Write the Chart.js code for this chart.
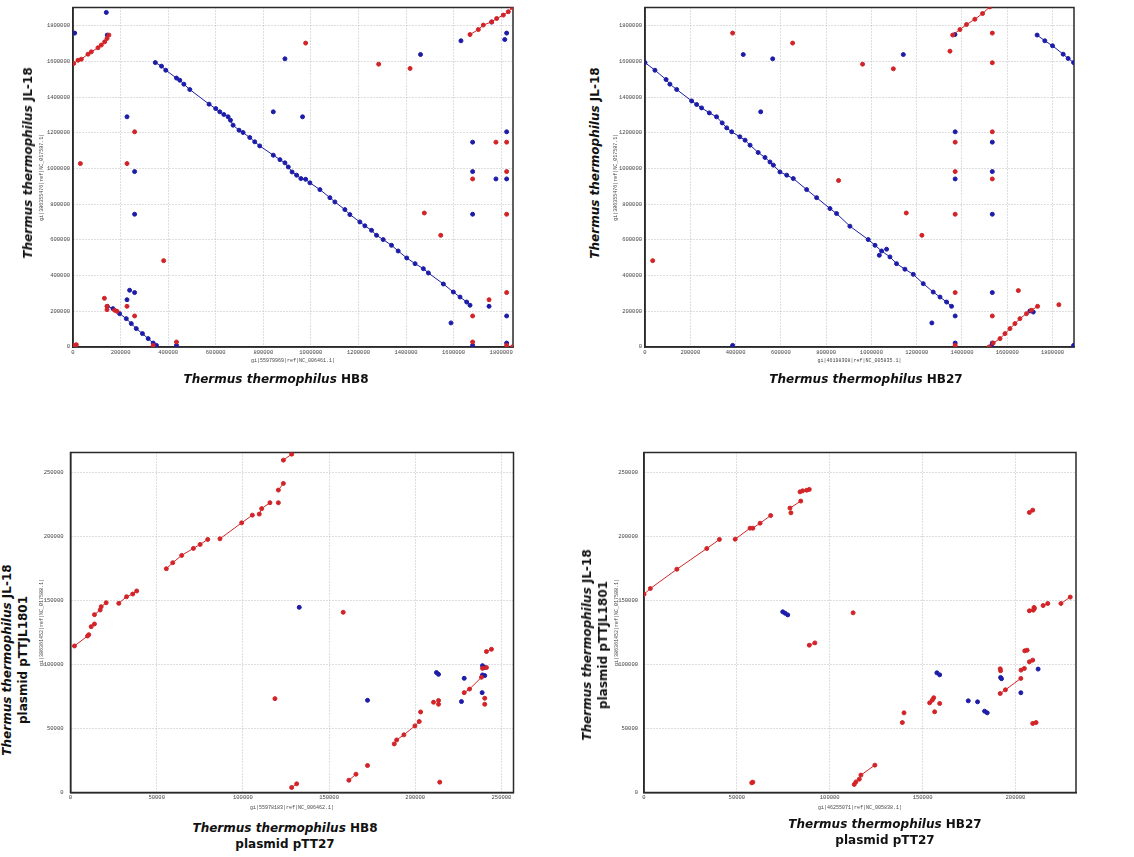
<!DOCTYPE html>
<html><head><meta charset="utf-8">
<script src="https://cdn.jsdelivr.net/npm/chart.js@4/dist/chart.umd.min.js"></script>
<style>
body{margin:0;background:#fff;width:1134px;height:857px;position:relative;overflow:hidden;font-family:"DejaVu Sans",sans-serif;}
canvas{position:absolute;}
.lab{position:absolute;font-weight:bold;font-size:12px;color:#111;white-space:nowrap;text-align:center;line-height:16px;}
.lab i{font-style:italic;}
.rot{transform:translate(-50%,-50%) rotate(-90deg);}
.hor{transform:translate(-50%,-50%);}
</style></head><body>
<canvas id="c1"></canvas><canvas id="c2"></canvas><canvas id="c3"></canvas><canvas id="c4"></canvas>
<div class="lab rot" style="left:28px;top:163px"><i>Thermus thermophilus</i> JL-18</div>
<div class="lab hor" style="left:276px;top:379px"><i>Thermus thermophilus</i> HB8</div>
<div class="lab rot" style="left:595px;top:163px"><i>Thermus thermophilus</i> JL-18</div>
<div class="lab hor" style="left:866px;top:379px"><i>Thermus thermophilus</i> HB27</div>
<div class="lab rot" style="left:15px;top:660px"><i>Thermus thermophilus</i> JL-18<br>plasmid pTTJL1801</div>
<div class="lab hor" style="left:285px;top:836px"><i>Thermus thermophilus</i> HB8<br>plasmid pTT27</div>
<div class="lab rot" style="left:595px;top:645px"><i>Thermus thermophilus</i> JL-18<br>plasmid pTTJL1801</div>
<div class="lab hor" style="left:885px;top:832px"><i>Thermus thermophilus</i> HB27<br>plasmid pTT27</div>
<script>
// ---------------- DATA ----------------
// Axis extents (sequence lengths)
const p1XMax = 1849742, p1YMax = 1902595;
const p2XMax = 1894877, p2YMax = 1902595;
const p3XMax = 256992,  p3YMax = 265886;
const p4XMax = 232605,  p4YMax = 265886;

// Tick values
const chromTicks = [0,200000,400000,600000,800000,1000000,1200000,1400000,1600000,1800000];
const p3XTicks = [0,50000,100000,150000,200000,250000];
const p4XTicks = [0,50000,100000,150000,200000];
const plasmidYTicks = [0,50000,100000,150000,200000,250000];

// Axis sub-titles
const p1XTitle = "gi|55979969|ref|NC_006461.1|", p1YTitle = "gi|386355476|ref|NC_017587.1|";
const p2XTitle = "gi|46198308|ref|NC_005835.1|", p2YTitle = "gi|386355476|ref|NC_017587.1|";
const p3XTitle = "gi|55978183|ref|NC_006462.1|", p3YTitle = "gi|386361452|ref|NC_017588.1|";
const p4XTitle = "gi|46255071|ref|NC_005838.1|", p4YTitle = "gi|386361452|ref|NC_017588.1|";

// Panel 1: HB8 chromosome vs JL-18 chromosome. Each segment = list of [x, y]
const p1Red = [
  [[3000,1589000],[21000,1607000],[35000,1613000],[63000,1641000],[77000,1654000],[105000,1677000],[119000,1692000],[133000,1710000],[143000,1729000],[151000,1748000]],
  [[1669000,1751000],[1704000,1779000],[1725000,1804000],[1760000,1822000],[1781000,1841000],[1809000,1860000],[1830000,1879000],[1847000,1903000]],
  [[175000,206000],[185000,200000]],
  [[3000,9000],[14000,13000]],
  [[978000,1703000]],[[1285000,1585000]],[[1417000,1561000]],[[259000,1206000]],[[31000,1028000]],
  [[227000,1028000]],[[381000,484000]],[[132000,273000]],[[227000,228000]],[[143000,228000]],[[143000,209000]],
  [[259000,174000]],[[435000,28000]],[[337000,9000]],[[1778000,1148000]],[[1823000,1148000]],
  [[1823000,983000]],[[1680000,942000]],[[1823000,744000]],[[1477000,751000]],[[1546000,626000]],
  [[1823000,305000]],[[1749000,265000]],[[1680000,174000]],[[1680000,28000]],[[1823000,9000]],[[1847000,0]]
];
const p1Blue = [
  [[346000,1594000],[372000,1574000],[390000,1551000],[435000,1507000],[449000,1495000],[466000,1473000],[491000,1443000],
   [572000,1361000],[600000,1336000],[617000,1318000],[634000,1303000],[652000,1290000],[662000,1271000],[673000,1243000],
   [698000,1215000],[715000,1202000],[743000,1174000],[764000,1150000],[785000,1127000],[842000,1075000],[870000,1050000],
   [891000,1032000],[905000,1009000],[921000,981000],[940000,963000],[958000,944000],[978000,940000],[996000,920000],
   [1038000,882000],[1080000,837000],[1101000,813000],[1143000,770000],[1164000,742000],[1206000,701000],[1227000,679000],
   [1255000,654000],[1276000,626000],[1304000,602000],[1339000,570000],[1367000,538000],[1403000,499000],[1438000,467000],
   [1473000,439000],[1494000,415000],[1557000,353000],[1599000,308000],[1627000,280000],[1655000,252000],[1669000,234000]],
  [[144000,228000],[168000,215000],[196000,187000],[224000,159000],[245000,131000],[266000,103000],[292000,75000],
   [316000,47000],[337000,22000],[351000,9000]],
  [[140000,1875000]],[[7000,1759000]],[[144000,1748000]],[[891000,1615000]],[[1461000,1639000]],[[1631000,1716000]],
  [[1760000,1821000]],[[1815000,1723000]],[[1823000,1759000]],[[842000,1318000]],[[965000,1290000]],[[227000,1290000]],
  [[259000,983000]],[[259000,744000]],[[238000,318000]],[[259000,305000]],[[227000,265000]],[[435000,9000]],
  [[1680000,1148000]],[[1823000,1206000]],[[1680000,983000]],[[1778000,942000]],[[1823000,942000]],[[1680000,744000]],
  [[1749000,228000]],[[1823000,174000]],[[1589000,135000]],[[1680000,9000]],[[1823000,22000]]
];

// Panel 2: HB27 chromosome vs JL-18 chromosome
const p2Red = [
  [[1359000,1748000],[1391000,1779000],[1420000,1807000],[1457000,1837000],[1491000,1869000],[1523000,1906000]],
  [[1520000,0],[1538000,22000],[1568000,47000],[1590000,75000],[1612000,103000],[1634000,131000],[1656000,159000],
   [1685000,187000],[1707000,206000],[1734000,228000]],
  [[34000,484000]],[[387000,1759000]],[[652000,1703000]],[[961000,1585000]],[[1097000,1559000]],[[1347000,1658000]],
  [[1534000,1759000]],[[1534000,1593000]],[[1534000,1206000]],[[1370000,1148000]],[[1370000,983000]],[[1534000,942000]],
  [[855000,933000]],[[1154000,751000]],[[1370000,744000]],[[1223000,626000]],[[1370000,305000]],[[1649000,316000]],
  [[1828000,237000]],[[1534000,174000]],[[1370000,9000]]
];
const p2Blue = [
  [[0,1594000],[44000,1551000],[93000,1499000],[110000,1473000],[140000,1443000],[206000,1379000],[228000,1359000],
   [250000,1340000],[284000,1312000],[316000,1290000],[341000,1256000],[361000,1228000],[383000,1206000],[419000,1178000],
   [442000,1159000],[464000,1131000],[500000,1090000],[530000,1062000],[552000,1037000],[567000,1019000],[596000,981000],
   [626000,963000],[655000,944000],[714000,882000],[758000,837000],[817000,776000],[846000,748000],[905000,677000],
   [986000,602000],[1016000,570000],[1045000,538000],[1082000,505000],[1111000,467000],[1148000,436000],[1185000,407000],
   [1229000,355000],[1273000,308000],[1303000,280000],[1332000,252000],[1354000,228000]],
  [[1732000,1748000],[1766000,1716000],[1800000,1688000],[1847000,1641000],[1869000,1617000],[1893000,1594000]],
  [[1700000,202000],[1715000,196000]],
  [[1369000,1751000]],[[1893000,9000]],[[387000,9000]],[[434000,1639000]],[[564000,1615000]],[[511000,1318000]],
  [[1141000,1639000]],[[1370000,1206000]],[[1534000,1148000]],[[1534000,983000]],[[1370000,942000]],[[1534000,744000]],
  [[1534000,305000]],[[1370000,174000]],[[1267000,135000]],[[1370000,22000]],[[1534000,22000]],[[1530000,5000]],
  [[1035000,514000]],[[1067000,548000]]
];

// Panel 3: HB8 plasmid pTT27 vs JL-18 plasmid pTTJL1801
const p3Red = [
  [[2300,114600],[9900,122400],[10600,123400]],
  [[12000,129700],[13900,131800]],
  [[13900,139100],[17200,142700],[17800,145300],[20700,148400]],
  [[28000,147900],[32500,153100],[36100,155200],[38400,157600]],
  [[55600,175000],[59300,179700],[64500,185400],[71300,190900],[75200,194000],[79600,197900]],
  [[86700,198400],[99300,210900],[105500,216900]],
  [[109500,217700],[110900,222000],[115700,226600]],
  [[120600,226600]],
  [[120600,236500],[123500,241700]],
  [[123500,259900],[128300,264600]],
  [[158200,140900]],[[118600,73400]],
  [[128300,3900],[131200,6800]],
  [[161500,9600],[165600,14300]],
  [[172300,21100]],
  [[187800,38000],[189200,41100],[193400,45100],[199800,52100],[202300,55500]],
  [[203100,63000]],[[210600,70600]],[[213500,71900]],[[213500,69000]],[[214200,8100]],
  [[228400,78100],[231500,80900],[238400,90100]],
  [[239000,97100]],[[241300,97700]],
  [[241300,110200],[244200,112000]],
  [[240300,73700]],[[240300,69000]]
];
const p3Blue = [
  [[132700,144800]],[[172300,72100]],[[212300,93800],[213500,92400]],[[228400,89300]],[[226800,71100]],
  [[239000,99200]],[[240300,97700]],[[239000,91900]],[[240300,91400]],[[238800,78100]]
];

// Panel 4: HB27 plasmid pTT27 vs JL-18 plasmid pTTJL1801
const p4Red = [
  [[0,155100],[3400,159500],[17700,174600],[33800,190800],[40600,197900]],
  [[49100,198100],[57100,206700],[58600,206700],[62500,210600],[68200,216600]],
  [[78600,222400],[84400,227900]],
  [[79100,218700]],
  [[84000,235100],[85400,235900]],
  [[87600,236400],[89000,237000]],
  [[89000,115200],[92000,117000]],
  [[112600,140500]],
  [[58000,7600],[58600,8100]],
  [[113200,6300],[114100,8300],[115900,10400],[116800,13600],[124300,21400]],
  [[139100,54700]],[[140000,62300]],
  [[153800,70100],[155200,72200],[156000,74100]],
  [[156500,63100]],[[159200,69600]],
  [[191800,96700]],[[192000,95200]],
  [[191800,77400],[194600,80300],[202900,89200]],
  [[203000,95700],[204800,97000]],
  [[205000,110800],[206300,111300]],
  [[207500,102200],[209300,103500]],
  [[207500,219000],[209300,220800]],
  [[209300,54000],[211100,54700]],
  [[207500,142100],[210200,143900]],[[209600,142600]],[[210000,144700]],
  [[214900,146200],[217400,147800]],
  [[224500,147800],[229500,152800]]
];
const p4Blue = [
  [[74700,141300],[76000,140200],[77400,138900]],
  [[157700,93600],[159200,92000]],
  [[174600,71700]],[[179600,70900]],
  [[183400,63600],[184800,62300]],
  [[192000,89900]],[[192500,89000]],[[202900,78000]],[[212200,96500]]
];

// ---------------- STYLE / BUILD ----------------
const RED = 'rgb(210,36,40)', BLUE = 'rgb(28,28,168)';
function toPoints(segs){
  const out = [];
  segs.forEach((s,i)=>{ if(i) out.push({x:null,y:null}); s.forEach(p=>out.push({x:p[0],y:p[1]})); });
  return out;
}
const framePlugin = {id:'frame', beforeDatasetsDraw(c){
  const a=c.chartArea, g=c.ctx; g.save(); g.strokeStyle='#2a2a2a'; g.lineWidth=1.5;
  g.strokeRect(a.left,a.top,a.right-a.left,a.bottom-a.top); g.restore(); }};

function panel(id, cv, plot, xMax, yMax, xTicks, yTicks, xTitle, yTitle, red, blue, tickPadY, titles){
  const el = document.getElementById(id);
  el.style.left = cv.left+'px'; el.style.top = cv.top+'px';
  el.width = cv.w; el.height = cv.h; el.style.width = cv.w+'px'; el.style.height = cv.h+'px';
  const yW = plot.L - cv.left, xH = cv.top + cv.h - plot.B;
  const tickFont = {family:'"Liberation Mono", monospace', size:5.5};
  const titleFont = {family:'"Liberation Mono", monospace', size:5};
  const lh = 5*1.2;
  const grid = {color:'#bdbdbd', lineWidth:1, drawTicks:false};
  const border = {display:true, color:'#2a2a2a', width:1.5, dash:[1,2]};
  const ds = (segs,col)=>({data:toPoints(segs), borderColor:col, backgroundColor:col, pointBorderColor:col,
      pointBackgroundColor:col, showLine:true, borderWidth:1, pointRadius:2, pointHoverRadius:2, spanGaps:false});
  new Chart(el, {
    type:'scatter',
    data:{datasets:[ds(red,RED), ds(blue,BLUE)]},
    options:{
      responsive:false, animation:false, events:[],
      layout:{padding:{top:plot.T-cv.top, right:cv.left+cv.w-plot.R, bottom:0, left:0}},
      plugins:{legend:{display:false}, tooltip:{enabled:false}},
      scales:{
        x:{type:'linear', min:0, max:xMax, grid, border,
           ticks:{autoSkip:false, maxRotation:0, color:'#444', font:tickFont, padding:2, callback:v=>String(v)},
           afterBuildTicks:s=>{ s.ticks = xTicks.map(v=>({value:v})); },
           title:{display:true, text:xTitle, color:'#444', font:titleFont, padding:{top:0,bottom: cv.top+cv.h-lh/2-titles.x}},
           afterFit:s=>{s.height = xH;}},
        y:{type:'linear', min:0, max:yMax, grid, border,
           ticks:{autoSkip:false, color:'#444', font:tickFont, padding:tickPadY, callback:v=>String(v)},
           afterBuildTicks:s=>{ s.ticks = yTicks.map(v=>({value:v})); },
           title:{display:true, text:yTitle, color:'#444', font:titleFont, padding:{top: titles.y-cv.left-lh/2, bottom:0}},
           afterFit:s=>{s.width = yW;}}
      }
    },
    plugins:[framePlugin]
  });
}

panel('c1', {left:34,top:0,w:490,h:372}, {L:73,T:7.5,R:513,B:347}, p1XMax, p1YMax, chromTicks, chromTicks, p1XTitle, p1YTitle, p1Red, p1Blue, 3, {x:361,y:42});
panel('c2', {left:606,top:0,w:480,h:372}, {L:645,T:7.5,R:1074,B:347}, p2XMax, p2YMax, chromTicks, chromTicks, p2XTitle, p2YTitle, p2Red, p2Blue, 3, {x:361,y:616});
panel('c3', {left:34,top:440,w:490,h:380}, {L:70.5,T:452.5,R:513.5,B:792.5}, p3XMax, p3YMax, p3XTicks, plasmidYTicks, p3XTitle, p3YTitle, p3Red, p3Blue, 7, {x:808,y:42});
panel('c4', {left:606,top:440,w:480,h:380}, {L:644,T:452.5,R:1076,B:792.5}, p4XMax, p4YMax, p4XTicks, plasmidYTicks, p4XTitle, p4YTitle, p4Red, p4Blue, 6, {x:808,y:617});
</script>
</body></html>
